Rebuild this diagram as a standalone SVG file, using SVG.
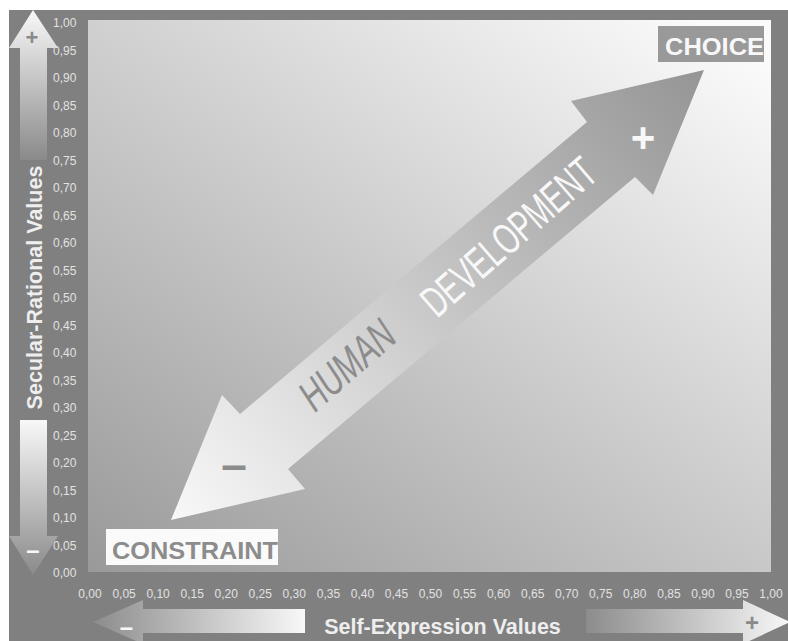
<svg xmlns="http://www.w3.org/2000/svg" width="788" height="641" viewBox="0 0 788 641">
<defs>
<linearGradient id="plotG" gradientUnits="userSpaceOnUse" x1="88" y1="572" x2="543" y2="-87">
<stop offset="0" stop-color="#999999"/>
<stop offset="1" stop-color="#fafafa"/>
</linearGradient>
<linearGradient id="bigG" gradientUnits="userSpaceOnUse" x1="171" y1="520" x2="704" y2="70">
<stop offset="0" stop-color="#f8f8f8"/>
<stop offset="1" stop-color="#959595"/>
</linearGradient>
<linearGradient id="upG" x1="0" y1="0" x2="0" y2="1">
<stop offset="0" stop-color="#f8f8f8"/>
<stop offset="1" stop-color="#8a8a8a"/>
</linearGradient>
<linearGradient id="rightG" x1="0" y1="0" x2="1" y2="0">
<stop offset="0" stop-color="#8c8c8c"/>
<stop offset="1" stop-color="#f8f8f8"/>
</linearGradient>
<linearGradient id="leftG" x1="0" y1="0" x2="1" y2="0">
<stop offset="0" stop-color="#8c8c8c"/>
<stop offset="1" stop-color="#f8f8f8"/>
</linearGradient>
<style>
.tick{font-family:"Liberation Sans",Arial,sans-serif;font-size:12px;fill:#e2e2e2}
.title{font-family:"Liberation Sans",Arial,sans-serif;font-size:21.5px;font-weight:bold;fill:#eeeeee}
.sign{font-family:"Liberation Sans",Arial,sans-serif;font-weight:bold;text-anchor:middle}
.lab{font-family:"Liberation Sans",Arial,sans-serif;font-size:24px;font-weight:bold}
.hd{font-family:"Liberation Sans",Arial,sans-serif;font-size:44px}
</style>
</defs>
<rect x="0" y="0" width="788" height="641" fill="#ffffff"/>
<rect x="9" y="10" width="779" height="631" fill="#808080"/>
<rect id="plot" x="88" y="20" width="683" height="552" fill="url(#plotG)"/>

<g id="y-ticks" class="tick">
<text x="53" y="27.3">1,00</text>
<text x="53" y="54.8">0,95</text>
<text x="53" y="82.3">0,90</text>
<text x="53" y="109.8">0,85</text>
<text x="53" y="137.3">0,80</text>
<text x="53" y="164.8">0,75</text>
<text x="53" y="192.3">0,70</text>
<text x="53" y="219.8">0,65</text>
<text x="53" y="247.3">0,60</text>
<text x="53" y="274.8">0,55</text>
<text x="53" y="302.3">0,50</text>
<text x="53" y="329.8">0,45</text>
<text x="53" y="357.3">0,40</text>
<text x="53" y="384.8">0,35</text>
<text x="53" y="412.3">0,30</text>
<text x="53" y="439.8">0,25</text>
<text x="53" y="467.3">0,20</text>
<text x="53" y="494.8">0,15</text>
<text x="53" y="522.3">0,10</text>
<text x="53" y="549.8">0,05</text>
<text x="53" y="577.3">0,00</text>
</g>
<g id="x-ticks" class="tick" text-anchor="middle">
<text x="90" y="598">0,00</text>
<text x="124.1" y="598">0,05</text>
<text x="158.1" y="598">0,10</text>
<text x="192.2" y="598">0,15</text>
<text x="226.2" y="598">0,20</text>
<text x="260.3" y="598">0,25</text>
<text x="294.3" y="598">0,30</text>
<text x="328.4" y="598">0,35</text>
<text x="362.4" y="598">0,40</text>
<text x="396.5" y="598">0,45</text>
<text x="430.5" y="598">0,50</text>
<text x="464.6" y="598">0,55</text>
<text x="498.6" y="598">0,60</text>
<text x="532.7" y="598">0,65</text>
<text x="566.7" y="598">0,70</text>
<text x="600.8" y="598">0,75</text>
<text x="634.8" y="598">0,80</text>
<text x="668.9" y="598">0,85</text>
<text x="702.9" y="598">0,90</text>
<text x="737" y="598">0,95</text>
<text x="771" y="598">1,00</text>
</g>

<g id="axis-arrows">
<path d="M20,160 V48 H9 L33,10 L58,48 H47 V160 Z" fill="url(#upG)"/>
<text class="sign" x="32" y="44.5" font-size="22" fill="#8a8a8a">+</text>
<path d="M20,420 H47 V536 H58 L33,575 L9,536 H20 Z" fill="url(#upG)"/>
<text class="sign" x="33" y="558" font-size="24" fill="#f8f8f8">–</text>
<path d="M305,609 V633 H143 V644 L93,622 L143,600 V609 Z" fill="url(#leftG)"/>
<text class="sign" x="126.5" y="635" font-size="24" fill="#f8f8f8">–</text>
<path d="M586,609 H743 V600 L790,622 L743,644 V633 H586 Z" fill="url(#rightG)"/>
<text class="sign" x="752" y="631" font-size="24" fill="#8a8a8a">+</text>
</g>

<g id="axis-titles" class="title">
<text transform="translate(41.5,287.5) rotate(-90)" text-anchor="middle">Secular-Rational Values</text>
<text x="442.5" y="634" text-anchor="middle">Self-Expression Values</text>
</g>

<g id="connectors">
<g id="human-development">
<path d="M704,70 L653,195 L635,177 L288,469 L305,489 L171,520 L222,395 L240,414 L587,122 L571,101 Z" fill="url(#bigG)"/>
<text class="sign" x="643" y="152" font-size="42" fill="#f8f8f8">+</text>
<text class="sign" x="234" y="480" font-size="46" fill="#8c8c8c">–</text>
<text class="hd" fill="#8c8c8c" font-style="italic" transform="translate(315,413) rotate(-41) scale(0.69,1)">HUMAN</text>
<text class="hd" fill="#f8f8f8" transform="translate(437,319) rotate(-41) scale(0.65,1)">DEVELOPMENT</text>
</g>
</g>

<g id="choice">
<rect x="658" y="26" width="106" height="36" fill="#999999"/>
<text class="lab" x="665" y="55" fill="#f8f8f8" textLength="99" lengthAdjust="spacingAndGlyphs">CHOICE</text>
</g>
<g id="constraint">
<rect x="106" y="529" width="172" height="36" fill="#fafafa"/>
<text class="lab" x="112" y="559" fill="#8c8c8c" textLength="166" lengthAdjust="spacingAndGlyphs">CONSTRAINT</text>
</g>
</svg>
